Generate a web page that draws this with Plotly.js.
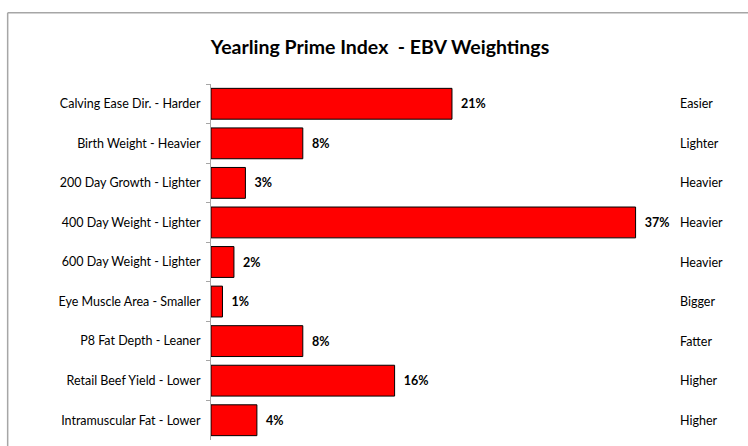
<!DOCTYPE html>
<html>
<head>
<meta charset="utf-8">
<script src="https://cdn.plot.ly/plotly-3.0.1.min.js"></script>
<style>html,body{margin:0;padding:0;background:#fff;}#chart{width:748px;height:446px;}</style>
</head>
<body>
<div id="chart"></div>
<script>
const categories = [
  "Calving Ease Dir. - Harder",
  "Birth Weight - Heavier",
  "200 Day Growth - Lighter",
  "400 Day Weight - Lighter",
  "600 Day Weight - Lighter",
  "Eye Muscle Area - Smaller",
  "P8 Fat Depth - Leaner",
  "Retail Beef Yield - Lower",
  "Intramuscular Fat - Lower"
];
const weights = [21, 8, 3, 37, 2, 1, 8, 16, 4];
const rightLabels = ["Easier", "Lighter", "Heavier", "Heavier", "Heavier", "Bigger", "Fatter", "Higher", "Higher"];

const font = "Lato, 'Open Sans', 'DejaVu Sans', sans-serif";

const trace = {
  type: 'bar',
  orientation: 'h',
  y: categories,
  x: weights,
  marker: {color: '#ff0000', line: {color: '#000000', width: 1}},
  texttemplate: '\u00a0\u00a0%{x}%',
  textposition: 'outside',
  cliponaxis: false,
  textfont: {family: font, size: 12.5, color: '#000000', weight: 'bold'},
  hoverinfo: 'skip'
};

const annotations = categories.map((c, i) => ({
  xref: 'paper', yref: 'y',
  x: 1.018, y: c,
  xanchor: 'left', yanchor: 'middle',
  text: rightLabels[i],
  showarrow: false,
  font: {family: font, size: 12.5, color: '#000000'}
}));

const layout = {
  width: 748, height: 446,
  margin: {l: 211, r: 78, t: 84, b: 6},
  paper_bgcolor: '#ffffff',
  plot_bgcolor: '#ffffff',
  showlegend: false,
  bargap: 0.22,
  title: {
    text: '<b>Yearling Prime Index  - EBV Weightings</b>',
    font: {family: font, size: 19.5, color: '#000000'},
    x: 0.508, xref: 'container', xanchor: 'center',
    y: 0.895, yref: 'container', yanchor: 'middle'
  },
  xaxis: {
    range: [0, 40],
    visible: false,
    fixedrange: true
  },
  yaxis: {
    type: 'category',
    autorange: 'reversed',
    showline: true, linecolor: '#a6a6a6', linewidth: 1,
    ticks: 'outside', tickson: 'boundaries', ticklen: 4, tickcolor: '#a6a6a6',
    showgrid: false, zeroline: false,
    tickfont: {family: font, size: 12.5, color: '#000000'},
    ticklabelstandoff: 7,
    fixedrange: true
  },
  shapes: [
    {type: 'line', xref: 'paper', yref: 'paper',
     x0: -0.443, x1: 1.3, y0: 1.2, y1: 1.2,
     line: {color: '#a6a6a6', width: 1.5}},
    {type: 'line', xref: 'paper', yref: 'paper',
     x0: -0.443, x1: -0.443, y0: -0.2, y1: 1.2,
     line: {color: '#a6a6a6', width: 1.5}}
  ],
  annotations: annotations
};

Plotly.newPlot('chart', [trace], layout, {displayModeBar: false, staticPlot: true});
</script>
</body>
</html>
